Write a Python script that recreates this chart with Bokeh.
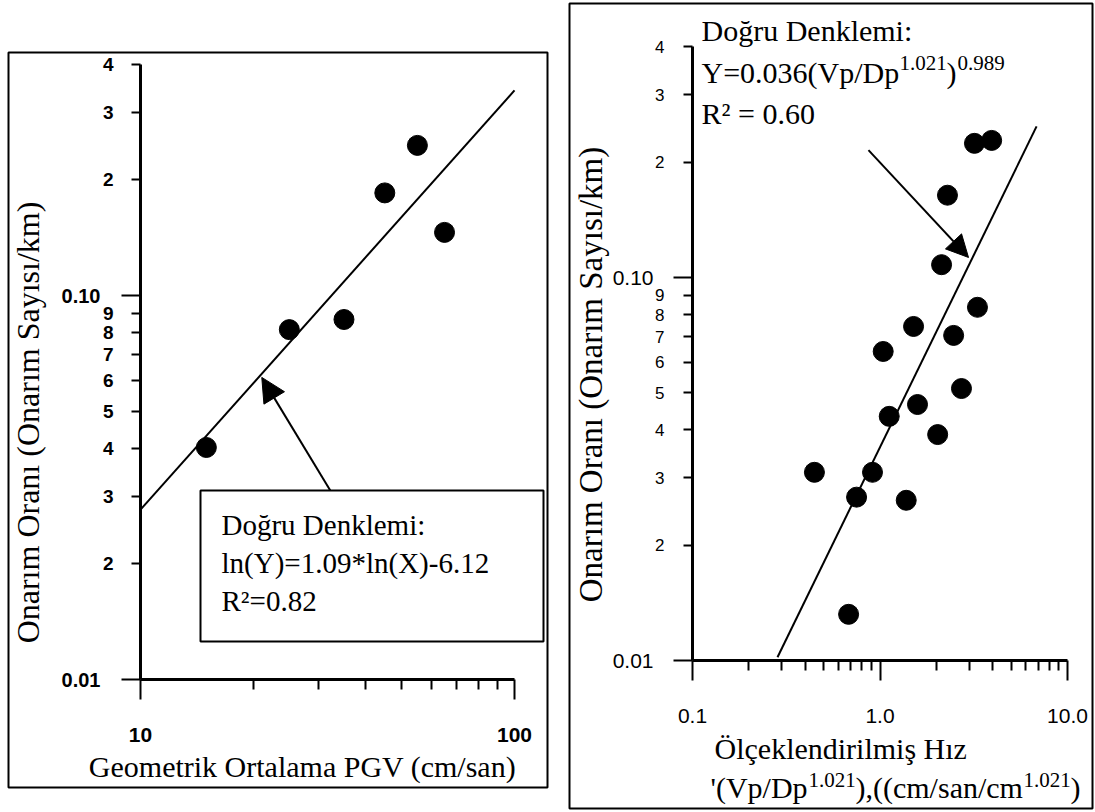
import math
from bokeh.plotting import figure
from bokeh.models import (FixedTicker, PrintfTickFormatter, Label, Arrow, NormalHead,
                          BoxAnnotation, ColumnDataSource, Range1d)
from bokeh.layouts import row
from bokeh.core.properties import value
from bokeh.embed import file_html
from bokeh.resources import INLINE

# ---------------- data : left panel ----------------
pgv = [15, 25, 35, 45, 55, 65]
rate_left = [0.0402, 0.0815, 0.0866, 0.185, 0.246, 0.146]
fit_left_x = [10, 100]
fit_left_y = [0.0277, 0.342]
arrow_left = [32.2, 0.031, 21.1, 0.0612]      # x_start, y_start, x_end, y_end

# ---------------- data : right panel ----------------
scaled_v = [3.19, 3.94, 2.29, 2.13, 3.31, 1.51, 2.47, 1.04, 2.72, 1.585,
            1.12, 2.03, 0.447, 0.912, 0.75, 1.38, 0.68]
rate_right = [0.224, 0.228, 0.164, 0.108, 0.0836, 0.0745, 0.0706, 0.0641, 0.0513,
              0.0466, 0.0434, 0.0389, 0.031, 0.031, 0.0267, 0.0262, 0.0132]
fit_right_x = [0.284, 6.84]
fit_right_y = [0.0102, 0.248]
arrow_right = [0.868, 0.215, 2.965, 0.1128]

# ---------------- ticks ----------------
y_major = [0.01, 0.1]
y_minor = [0.02, 0.03, 0.04, 0.05, 0.06, 0.07, 0.08, 0.09, 0.2, 0.3, 0.4]
y_minor_labels = ["2", "3", "4", "5", "6", "7", "8", "9", "2", "3", "4"]
xl_major = [10, 100]
xl_minor = [20, 30, 40, 50, 60, 70, 80, 90]
xr_major = [0.1, 1, 10]
xr_minor = [0.2, 0.3, 0.4, 0.5, 0.6, 0.7, 0.8, 0.9, 2, 3, 4, 5, 6, 7, 8, 9]

# ---------------- texts ----------------
ylabel = "Onarım Oranı (Onarım Sayısı/km)"
xlabel_left = "Geometrik Ortalama PGV (cm/san)"
eq_left = ["Doğru Denklemi:", "ln(Y)=1.09*ln(X)-6.12", "R²=0.82"]
xlabel_right = "Ölçeklendirilmiş Hız"

SANS = "Liberation Sans"
SERIF = "Liberation Serif"


# page-pixel -> data helpers, used only to place ranges and annotations
def lx(px): return 10 ** (1 + (px - 140) / 374)
def ly(py): return 10 ** (-2 + (679 - py) / 384)
def rx(px): return 10 ** (-1 + (px - 692) / 187.5)
def ry(py): return 10 ** (-2 + (660 - py) / 383)


def style_axes(p, xloc, yloc, xb, yb, xt, xm, xfmt, bold, xfs, yfs):
    xa, ya = p.xaxis[0], p.yaxis[0]
    xa.fixed_location = yloc
    ya.fixed_location = xloc
    xa.bounds = xb
    ya.bounds = yb
    xa.ticker = FixedTicker(ticks=xt, minor_ticks=xm)
    ya.ticker = FixedTicker(ticks=y_major, minor_ticks=y_minor)
    xa.formatter = PrintfTickFormatter(format=xfmt)
    ya.formatter = PrintfTickFormatter(format="%.2f")
    for a in (xa, ya):
        a.axis_line_width = 3
        a.axis_line_color = "black"
        a.major_tick_line_width = 2
        a.minor_tick_line_width = 2
        a.major_tick_line_color = "black"
        a.minor_tick_line_color = "black"
        a.major_tick_in = 0
        a.minor_tick_in = 0
        a.major_label_text_font = SANS
        a.major_label_text_color = "black"
        a.major_label_text_font_style = "bold" if bold else "normal"
    xa.major_tick_out = 20
    xa.minor_tick_out = 10
    ya.major_tick_out = 19
    ya.minor_tick_out = 9
    xa.major_label_standoff = 28
    ya.major_label_standoff = 21
    xa.major_label_text_font_size = xfs
    ya.major_label_text_font_size = yfs


def lab(fx, fy, p, px, base, text, size, align="left"):
    """horizontal serif text whose baseline sits at page pixel row `base`"""
    mid = base - 0.32 * size
    p.add_layout(Label(x=fx(px), y=fy(mid), text=text, text_font=SERIF,
                       text_font_size=f"{size}px", text_align=align,
                       text_baseline="middle", text_color="black"))


def vlab(p, x, y, text, size):
    p.add_layout(Label(x=x, y=y, text=text, text_font=SERIF, text_font_size=f"{size}px",
                       text_align="center", text_baseline="middle",
                       angle=math.pi / 2, text_color="black"))


def panel_box(p, l, r, t, b, fill=None):
    p.add_layout(BoxAnnotation(left=l, right=r, top=t, bottom=b,
                               fill_color=fill, fill_alpha=1.0 if fill else 0.0,
                               line_color="black", line_width=2, line_alpha=1.0))


# ================= left figure (page x 0..558) =================
p1 = figure(width=558, height=810, x_axis_type="log", y_axis_type="log",
            x_range=Range1d(lx(0), lx(558)), y_range=Range1d(ly(810), ly(0)),
            output_backend="svg", toolbar_location=None, title=None, min_border=0)
p1.grid.visible = False
p1.outline_line_color = None
p1.background_fill_color = "white"
p1.border_fill_color = "white"
style_axes(p1, 10, 0.01, (10, 100), (0.01, 0.4), xl_major, xl_minor, "%d", True,
           "21px", "20px")

panel_box(p1, lx(8), lx(547), ly(52), ly(787))

p1.line(fit_left_x, fit_left_y, line_color="black", line_width=2)
p1.scatter(pgv, rate_left, size=20, fill_color="black", line_color="black")

src1 = ColumnDataSource(dict(x=[10] * len(y_minor), y=y_minor, t=y_minor_labels))
p1.text(x="x", y="y", text="t", source=src1, x_offset=-27, text_align="right",
        text_baseline="middle", text_font=value(SANS), text_font_size="19px",
        text_font_style="bold", text_color="black")

p1.add_layout(Arrow(end=NormalHead(size=24, fill_color="black", line_color="black"),
                    x_start=arrow_left[0], y_start=arrow_left[1],
                    x_end=arrow_left[2], y_end=arrow_left[3],
                    line_width=2, line_color="black"))
panel_box(p1, lx(200), lx(543), ly(490), ly(641), fill="white")
lab(lx, ly, p1, 221, 534, eq_left[0], 29)
lab(lx, ly, p1, 221, 572, eq_left[1], 29)
lab(lx, ly, p1, 221, 610, eq_left[2], 29)
lab(lx, ly, p1, 302, 776, xlabel_left, 30, align="center")
vlab(p1, lx(27), ly(422), ylabel, 32)

# ================= right figure (page x 558..1095) =================
p2 = figure(width=537, height=810, x_axis_type="log", y_axis_type="log",
            x_range=Range1d(rx(558), rx(1095)), y_range=Range1d(ry(810), ry(0)),
            output_backend="svg", toolbar_location=None, title=None, min_border=0)
p2.grid.visible = False
p2.outline_line_color = None
p2.background_fill_color = "white"
p2.border_fill_color = "white"
style_axes(p2, 0.1, 0.01, (0.1, 10), (0.01, 0.4), xr_major, xr_minor, "%.1f", False,
           "21px", "21px")
p2.yaxis[0].major_label_standoff = 20

panel_box(p2, rx(569), rx(1092), ry(3), ry(808))

p2.line(fit_right_x, fit_right_y, line_color="black", line_width=2)
p2.scatter(scaled_v, rate_right, size=20, fill_color="black", line_color="black")

src2 = ColumnDataSource(dict(x=[0.1] * len(y_minor), y=y_minor, t=y_minor_labels))
p2.text(x="x", y="y", text="t", source=src2, x_offset=-28, text_align="right",
        text_baseline="middle", text_font=value(SANS), text_font_size="17px",
        text_color="black")

p2.add_layout(Arrow(end=NormalHead(size=22, fill_color="black", line_color="black"),
                    x_start=arrow_right[0], y_start=arrow_right[1],
                    x_end=arrow_right[2], y_end=arrow_right[3],
                    line_width=2, line_color="black"))

lab(rx, ry, p2, 701, 40, "Doğru Denklemi:", 30)
lab(rx, ry, p2, 701, 82, "Y=0.036(Vp/Dp", 30)
lab(rx, ry, p2, 899, 69, "1.021", 21)
lab(rx, ry, p2, 946, 82, ")", 30)
lab(rx, ry, p2, 957, 69, "0.989", 21)
lab(rx, ry, p2, 701, 123, "R² = 0.60", 30)

lab(rx, ry, p2, 714, 758, xlabel_right, 30)
lab(rx, ry, p2, 710, 797, "'(Vp/Dp", 30)
lab(rx, ry, p2, 808, 786, "1.021", 21)
lab(rx, ry, p2, 855, 797, "),((cm/san/cm", 30)
lab(rx, ry, p2, 1023, 786, "1.021", 21)
lab(rx, ry, p2, 1070, 797, ")", 30)
vlab(p2, rx(590), ry(374), ylabel, 33)

layout = row(p1, p2)
open("out.html", "w").write(file_html(layout, INLINE))
